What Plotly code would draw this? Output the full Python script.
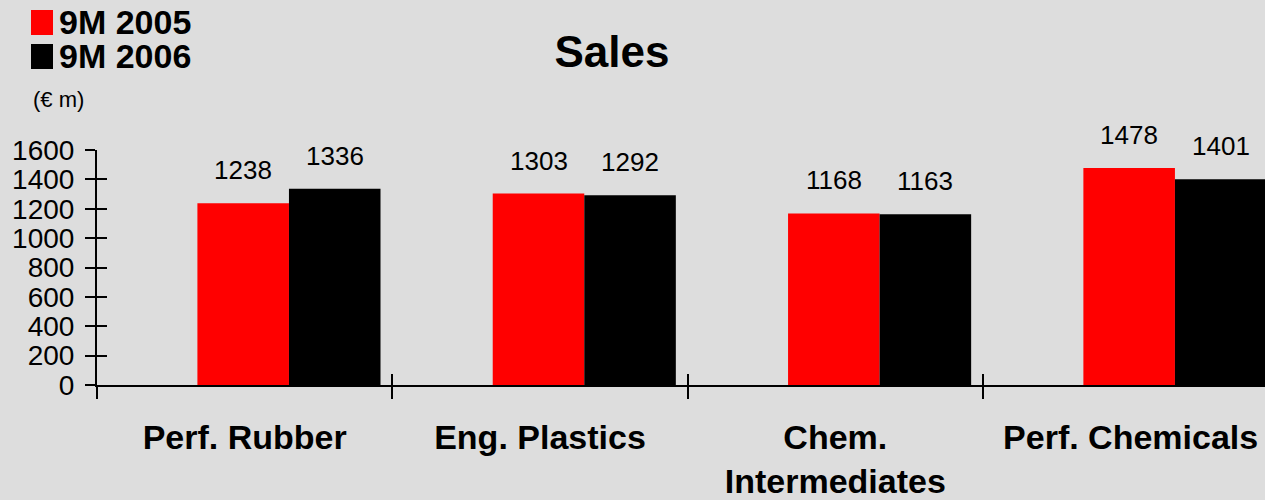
import plotly.graph_objects as go

# ---------------- data ----------------
categories = ["Perf. Rubber", "Eng. Plastics", "Chem.<br>Intermediates", "Perf. Chemicals"]
sales_2005 = [1238, 1303, 1168, 1478]
sales_2006 = [1336, 1292, 1163, 1401]
series_names = ["9M 2005", "9M 2006"]
y_ticks = [0, 200, 400, 600, 800, 1000, 1200, 1400, 1600]
unit_label = "(€ m)"
title_text = "Sales"

# ---------------- layout constants ----------------
W, H = 1265, 500
ML, MR, MT, MB = 97, 0, 150, 115
PW, PH = W - ML - MR, H - MT - MB
X_RANGE = [-0.5, 3.455]
CAT_PX = PW / (X_RANGE[1] - X_RANGE[0])

RED, BLACK, BG = "#ff0000", "#000000", "#dddddd"
FONT = "Arial, 'Liberation Sans', sans-serif"

BAR_W = 0.31
OFF_2005 = -0.16
OFF_2006 = 0.15


def px_x(x):
    return (x - ML) / PW


def px_y(y):
    return (H - MB - y) / PH


fig = go.Figure()
fig.add_trace(go.Bar(x=categories, y=sales_2005, name=series_names[0],
                     marker=dict(color=RED, line=dict(width=0)),
                     width=BAR_W, offset=OFF_2005, xaxis="x", yaxis="y",
                     showlegend=False))
fig.add_trace(go.Bar(x=categories, y=sales_2006, name=series_names[1],
                     marker=dict(color=BLACK, line=dict(width=0)),
                     width=BAR_W, offset=OFF_2006, xaxis="x2", yaxis="y2",
                     showlegend=False))

annotations = []
for series, off in ((sales_2005, OFF_2005), (sales_2006, OFF_2006)):
    for c, v in zip(categories, series):
        annotations.append(dict(x=c, y=v, xref="x", yref="y", text=str(v),
                                showarrow=False, yanchor="bottom",
                                xshift=(off + BAR_W / 2) * CAT_PX, yshift=16,
                                font=dict(family=FONT, size=26, color="black")))

# legend: swatches + text (two lines, tight line spacing like the original)
legend_text = "<br>".join(f"<span style='font-size:34px'><b>{n}</b></span>" for n in series_names)
annotations.append(dict(x=px_x(57), y=px_y(1), xref="paper", yref="paper",
                        xanchor="left", yanchor="top", showarrow=False, align="left",
                        text=legend_text,
                        font=dict(family=FONT, size=26, color="black")))
shapes = []
for col, (top, bot) in ((RED, (10, 35)), (BLACK, (44, 69))):
    shapes.append(dict(type="rect", xref="paper", yref="paper",
                       x0=px_x(31), x1=px_x(53), y0=px_y(bot), y1=px_y(top),
                       fillcolor=col, line=dict(width=0)))

annotations.append(dict(x=px_x(31), y=px_y(100), xref="paper", yref="paper",
                        xanchor="left", yanchor="middle", showarrow=False,
                        text=unit_label,
                        font=dict(family=FONT, size=22, color="black")))

fig.update_layout(
    width=W, height=H,
    margin=dict(l=ML, r=MR, t=MT, b=MB, pad=0, autoexpand=False),
    paper_bgcolor=BG, plot_bgcolor=BG,
    barmode="overlay",
    showlegend=False,
    title=dict(text=f"<b>{title_text}</b>", x=612 / W, xanchor="center",
               y=1 - 52 / H, yanchor="middle", xref="container", yref="container",
               font=dict(family=FONT, size=44, color="black")),
    xaxis=dict(type="category", categoryorder="array", categoryarray=categories,
               range=X_RANGE, tickson="boundaries", ticks="outside", ticklen=12,
               tickwidth=2, tickcolor="black", showline=True, linecolor="black",
               linewidth=1.5, showgrid=False, zeroline=False, ticklabelstandoff=21,
               automargin=False,
               tickfont=dict(family=FONT, size=34, color="black", weight="bold"),
               anchor="y"),
    xaxis2=dict(type="category", overlaying="x", matches="x", anchor="y2",
                tickson="boundaries", ticks="inside", ticklen=11, tickwidth=2,
                tickcolor="black", showticklabels=False, showline=False,
                showgrid=False, zeroline=False, automargin=False),
    yaxis=dict(range=[0, 1600], tickmode="array", tickvals=y_ticks,
               ticks="outside", ticklen=10, tickwidth=2, tickcolor="black",
               showline=True, linecolor="black", linewidth=2, showgrid=False,
               zeroline=False, ticklabelstandoff=5, automargin=False,
               tickfont=dict(family=FONT, size=28, color="black")),
    yaxis2=dict(range=[0, 1600], overlaying="y", matches="y", anchor="x2", side="left",
                tickmode="array", tickvals=y_ticks,
                ticks="inside", ticklen=10, tickwidth=2, tickcolor="black",
                showticklabels=False, showline=False, showgrid=False, zeroline=False,
                automargin=False),
    annotations=annotations,
    shapes=shapes,
)

fig.write_html("out.html")
